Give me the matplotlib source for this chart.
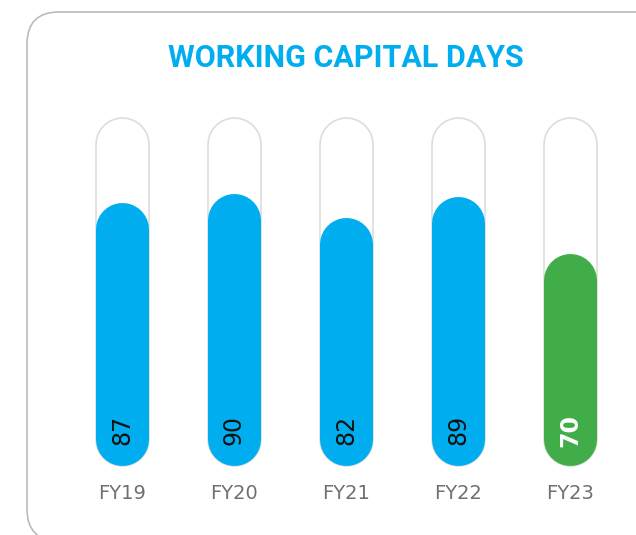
import matplotlib
matplotlib.use("Agg")
import matplotlib.pyplot as plt
from matplotlib.patches import FancyBboxPatch

# data
years = ["FY19", "FY20", "FY21", "FY22", "FY23"]
days = [87, 90, 82, 89, 70]
track_max = 115

BLUE = "#00AEEF"
GREEN = "#41AD49"
colors = [BLUE, BLUE, BLUE, BLUE, GREEN]
text_colors = ["#111111", "#111111", "#111111", "#111111", "white"]

DPI = 100
fig = plt.figure(figsize=(6.36, 5.35), dpi=DPI)

# background frame (pixel coords)
deco = fig.add_axes([0, 0, 1, 1])
deco.set_xlim(0, 636)
deco.set_ylim(0, 535)
deco.axis("off")
frame = FancyBboxPatch((27, -6), 700, 529, boxstyle="round,pad=0,rounding_size=32",
                       fc="none", ec="#BBBBBB", lw=1.2)
deco.add_patch(frame)
deco.text(346, 535 - 58, "WORKING CAPITAL DAYS", ha="center", va="center",
          color=BLUE, fontsize=22, fontweight="bold", family="Roboto")

# chart axes: ~112 px per category, ~3.02 px per day
ax = fig.add_axes([0, 0, 1, 1])
ax.patch.set_alpha(0)
px_x, px_y = 112.0, 3.02
ax.set_xlim(-122 / px_x, (636 - 122) / px_x)
ax.set_ylim(-70 / px_y, (535 - 70) / px_y)
ax.axis("off")

bar_px = 53
r = bar_px / 2 / px_y  # cap radius in data units
lw_pt = bar_px * 72 / DPI

for i, (yr, v) in enumerate(zip(years, days)):
    # track outline
    ax.plot([i, i], [r, track_max - r], color="#DDDDDD", lw=lw_pt + 1.2,
            solid_capstyle="round", zorder=1)
    ax.plot([i, i], [r, track_max - r], color="white", lw=lw_pt - 1.2,
            solid_capstyle="round", zorder=2)
    # filled value
    ax.plot([i, i], [r, v - r], color=colors[i], lw=lw_pt,
            solid_capstyle="round", zorder=3)
    ax.text(i, 11.5, str(v), rotation=90, ha="center", va="center",
            color=text_colors[i], fontsize=17, zorder=4,
            fontweight="bold" if i == 4 else "normal")
    ax.text(i, -9.5, yr, ha="center", va="center", color="#707070", fontsize=14)

fig.savefig("out.png", dpi=DPI)
